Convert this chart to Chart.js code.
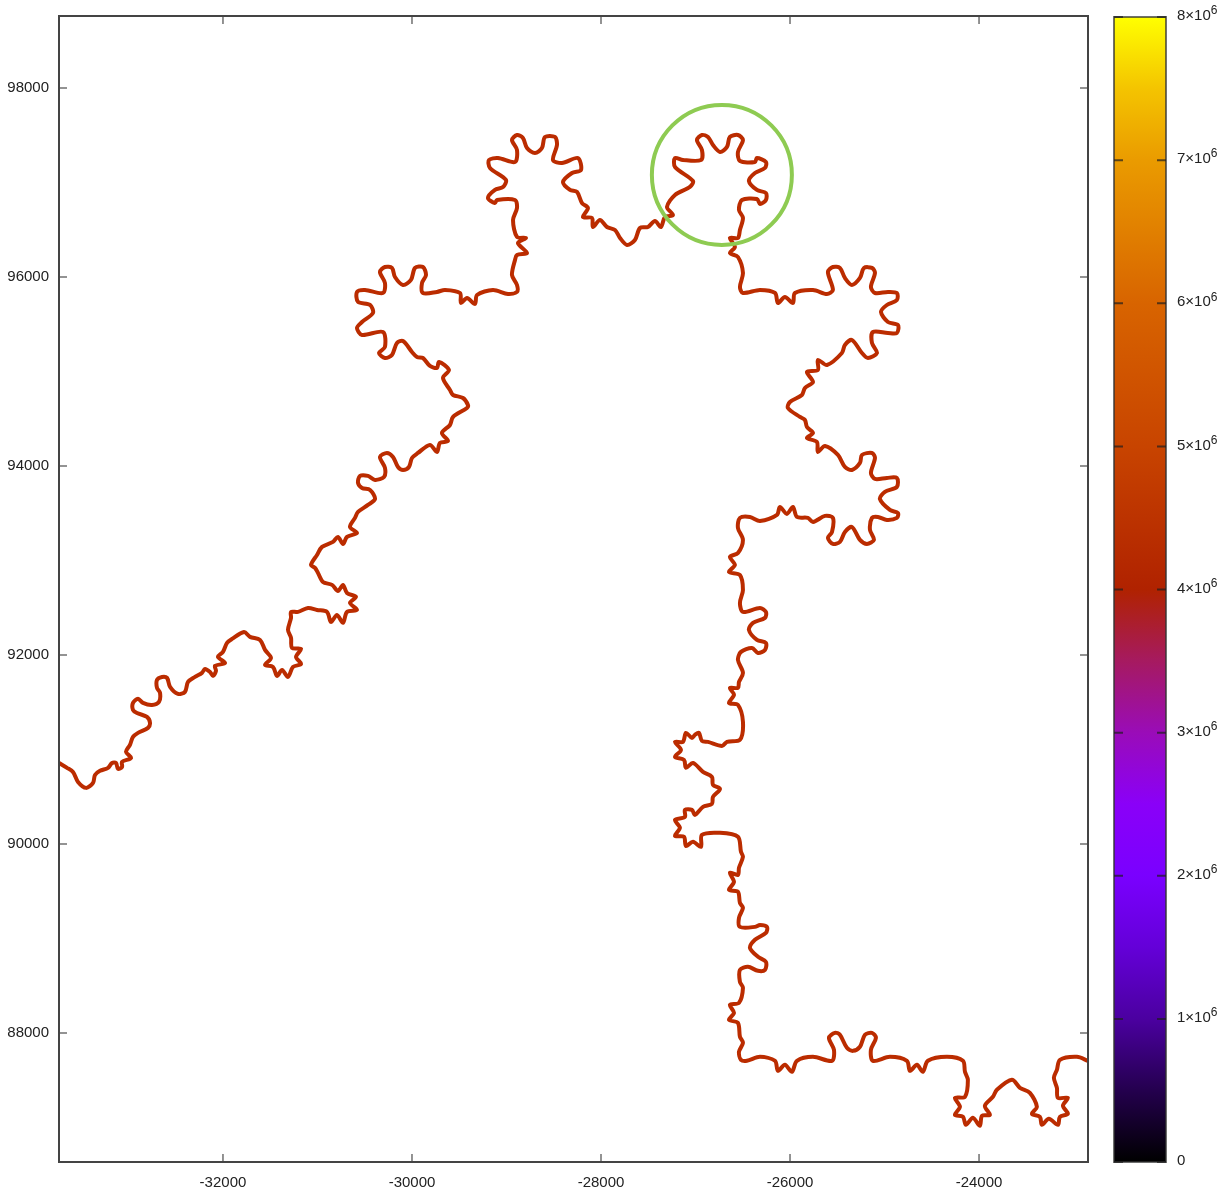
<!DOCTYPE html>
<html><head><meta charset="utf-8">
<style>html,body{margin:0;padding:0;background:#fff;overflow:hidden}canvas{position:absolute;top:0}</style>
<script src="https://cdn.jsdelivr.net/npm/chart.js@4"></script></head>
<body>
<canvas id="main" width="1100" height="1195" style="left:0"></canvas>
<canvas id="cbar" width="131" height="1195" style="left:1100px"></canvas>
<script>
const xTicks=[-32000,-30000,-28000,-26000,-24000];
const yTicks=[88000,90000,92000,94000,96000,98000];
const cbTicks=[0,1e6,2e6,3e6,4e6,5e6,6e6,7e6,8e6];
const cbMantissa=["0","1×10","2×10","3×10","4×10","5×10","6×10","7×10","8×10"];
const cbExponent=["","6","6","6","6","6","6","6","6"];
const circleX=[-26721];
const circleY=[97080];
const curveX=[-33735,-33650,-33587,-33534,-33449,-33375,-33354,-33301,-33216,-33174,-33132,-33111,-33068,-33068,-32973,-33026,-32984,-32952,-32899,-32793,-32772,-32804,-32910,-32952,-32952,-32899,-32846,-32751,-32677,-32666,-32698,-32698,-32645,-32592,-32560,-32476,-32402,-32370,-32296,-32222,-32190,-32137,-32105,-32074,-32084,-31978,-32053,-32000,-31957,-31904,-31777,-31714,-31608,-31555,-31492,-31555,-31471,-31428,-31375,-31312,-31259,-31174,-31227,-31174,-31270,-31280,-31312,-31280,-31280,-31206,-31100,-31005,-30899,-30857,-30794,-30730,-30688,-30582,-30656,-30593,-30688,-30730,-30783,-30846,-30942,-30995,-31026,-31069,-31005,-30952,-30836,-30783,-30730,-30688,-30582,-30656,-30603,-30571,-30466,-30391,-30444,-30529,-30571,-30550,-30466,-30391,-30296,-30286,-30339,-30265,-30201,-30148,-30095,-30032,-30000,-29937,-29810,-29736,-29704,-29619,-29683,-29598,-29566,-29418,-29408,-29460,-29566,-29598,-29672,-29609,-29714,-29736,-29810,-29884,-29947,-30000,-30095,-30159,-30212,-30286,-30349,-30286,-30307,-30529,-30582,-30529,-30413,-30444,-30571,-30582,-30497,-30307,-30286,-30339,-30286,-30212,-30180,-30095,-30011,-29968,-29884,-29852,-29894,-29884,-29736,-29651,-29492,-29482,-29418,-29333,-29312,-29143,-28984,-28889,-28889,-28942,-28910,-28889,-28783,-28879,-28794,-28889,-28931,-28889,-28910,-29101,-29122,-29196,-29122,-29037,-29006,-29175,-29185,-29090,-28910,-28889,-28942,-28889,-28826,-28783,-28699,-28625,-28593,-28487,-28466,-28508,-28413,-28244,-28212,-28307,-28402,-28328,-28254,-28201,-28138,-28191,-28096,-28085,-28011,-27937,-27852,-27799,-27725,-27641,-27588,-27503,-27429,-27366,-27323,-27239,-27302,-27217,-27059,-27027,-27217,-27217,-27133,-26942,-26932,-26985,-26932,-26868,-26815,-26741,-26667,-26636,-26551,-26498,-26551,-26530,-26371,-26350,-26255,-26265,-26371,-26435,-26350,-26255,-26255,-26318,-26350,-26509,-26540,-26498,-26530,-26551,-26636,-26583,-26636,-26551,-26498,-26530,-26498,-26318,-26159,-26128,-26054,-25969,-25948,-25757,-25609,-25546,-25599,-25546,-25472,-25419,-25345,-25260,-25218,-25133,-25101,-25144,-25101,-24964,-24869,-24869,-24975,-25038,-24964,-24858,-24869,-24964,-25123,-25133,-25080,-25176,-25239,-25345,-25419,-25451,-25609,-25705,-25705,-25821,-25757,-25842,-25874,-26001,-26022,-25895,-25842,-25821,-25757,-25821,-25715,-25705,-25630,-25493,-25419,-25345,-25260,-25239,-25133,-25101,-25144,-25101,-24975,-24869,-24869,-24996,-25049,-24943,-24858,-24869,-24975,-25070,-25133,-25154,-25112,-25186,-25260,-25345,-25419,-25472,-25546,-25599,-25556,-25546,-25630,-25757,-25810,-25927,-25969,-26033,-26107,-26138,-26318,-26424,-26530,-26551,-26498,-26551,-26636,-26583,-26646,-26530,-26498,-26530,-26498,-26318,-26255,-26265,-26392,-26435,-26350,-26255,-26265,-26339,-26403,-26519,-26551,-26498,-26540,-26551,-26636,-26593,-26646,-26551,-26498,-26530,-26667,-26720,-26868,-26932,-26964,-27006,-27038,-27101,-27133,-27217,-27154,-27217,-27122,-27101,-27027,-26921,-26826,-26815,-26741,-26815,-26826,-26921,-27006,-27038,-27112,-27112,-27217,-27165,-27217,-27122,-27101,-27027,-26942,-26932,-26741,-26551,-26519,-26498,-26540,-26551,-26636,-26593,-26646,-26551,-26530,-26498,-26540,-26530,-26371,-26318,-26244,-26255,-26371,-26424,-26339,-26255,-26265,-26339,-26445,-26530,-26530,-26498,-26540,-26636,-26593,-26646,-26551,-26530,-26498,-26540,-26519,-26456,-26318,-26159,-26128,-26054,-25980,-25927,-25757,-25556,-25535,-25588,-25525,-25472,-25398,-25334,-25260,-25207,-25133,-25091,-25144,-25123,-24943,-24763,-24731,-24657,-24594,-24541,-24340,-24170,-24149,-24118,-24149,-24255,-24202,-24255,-24170,-24139,-24065,-23991,-23969,-23885,-23938,-23853,-23811,-23652,-23567,-23462,-23388,-23440,-23356,-23335,-23261,-23165,-23144,-23060,-23112,-23060,-23165,-23176,-23208,-23176,-23144,-22964,-22848];
const curveY=[90858,90806,90763,90657,90594,90647,90731,90774,90806,90858,90858,90795,90816,90869,90911,90975,91049,91134,91176,91229,91282,91345,91387,91419,91493,91536,91493,91472,91504,91599,91652,91737,91768,91758,91663,91588,91610,91715,91768,91811,91853,91821,91779,91832,91885,91916,91980,92033,92128,92170,92244,92192,92160,92054,91969,91895,91874,91779,91842,91768,91874,91906,91980,92065,92075,92181,92266,92393,92456,92456,92498,92477,92456,92350,92424,92340,92456,92477,92551,92615,92657,92742,92678,92742,92773,92869,92922,92953,93059,93144,93197,93250,93175,93250,93292,93355,93451,93514,93588,93652,93747,93768,93821,93895,93895,93853,93884,93980,94096,94138,94096,93990,93958,93990,94085,94138,94223,94149,94244,94265,94350,94434,94519,94614,94646,94720,94752,94805,94932,95016,95101,95038,95059,95143,95154,95207,95323,95302,95175,95143,95196,95260,95418,95387,95461,95524,95619,95704,95736,95842,95863,95831,95937,96053,96106,96096,96000,95916,95969,96096,96106,96021,95937,95831,95842,95863,95831,95725,95778,95715,95810,95863,95820,95842,95916,96021,96180,96233,96254,96360,96413,96424,96603,96730,96815,96815,96783,96836,96921,96953,97027,97154,97238,97259,97217,97344,97450,97503,97471,97365,97312,97365,97482,97482,97397,97238,97206,97259,97132,97101,97005,96921,96900,96783,96730,96635,96625,96529,96603,96529,96498,96413,96339,96392,96519,96529,96593,96529,96635,96656,96741,96868,96953,97016,97164,97259,97238,97238,97344,97450,97503,97482,97397,97323,97376,97482,97503,97450,97323,97228,97217,97259,97217,97154,97101,97016,96921,96889,96815,96773,96826,96815,96709,96625,96498,96413,96413,96318,96254,96212,96043,95895,95831,95863,95831,95725,95789,95725,95831,95863,95820,95863,96053,96106,96096,95990,95916,95990,96096,96096,96043,95895,95831,95842,95831,95757,95704,95630,95524,95492,95408,95408,95418,95302,95196,95143,95196,95334,95281,95196,95069,95122,95016,94995,94889,94826,94752,94678,94614,94519,94487,94413,94350,94297,94255,94149,94212,94117,93990,93958,94032,94117,94138,94085,93927,93863,93874,93874,93779,93726,93652,93535,93503,93451,93429,93461,93451,93324,93218,93175,93218,93355,93302,93197,93175,93239,93302,93451,93472,93408,93451,93461,93567,93493,93567,93482,93419,93461,93451,93345,93218,93080,93038,92953,92879,92847,92689,92551,92456,92498,92456,92393,92340,92266,92160,92128,92054,92022,92075,92033,91948,91811,91715,91652,91652,91578,91493,91472,91292,91102,91081,91038,91081,91091,91176,91155,91123,91176,91081,91081,90996,90922,90890,90806,90858,90763,90710,90626,90583,90499,90425,90393,90308,90361,90361,90287,90255,90171,90086,90076,89980,90023,89970,90097,90118,90076,89917,89864,89748,89673,89695,89599,89515,89494,89377,89324,89219,89123,89123,89144,89123,89060,88986,88901,88806,88753,88668,88658,88700,88668,88541,88478,88319,88298,88213,88139,88108,87960,87896,87801,87716,87706,87748,87706,87600,87663,87589,87706,87748,87706,87822,87949,88002,87981,87843,87811,87854,87981,88002,87949,87822,87706,87748,87706,87600,87663,87589,87706,87748,87706,87589,87505,87325,87314,87219,87134,87113,87028,87103,87018,87124,87134,87230,87325,87399,87505,87420,87367,87219,87145,87113,87028,87092,87028,87113,87145,87230,87314,87314,87420,87526,87610,87716,87748,87706];
const xRange=[-33735,-22847];
const yRange=[86635,98762];
const cbStops=[[0,'#000000'],[0.5e6,'#24004e'],[1e6,'#4b00a0'],[1.5e6,'#6400d8'],[2e6,'#7a00ff'],[2.5e6,'#8a00f8'],[3e6,'#9a0cb8'],[3.5e6,'#a61a60'],[4e6,'#b02200'],[5e6,'#c84400'],[6e6,'#d86400'],[7e6,'#ea9b00'],[7.5e6,'#f4c400'],[8e6,'#ffff00']];
const FONT='"Liberation Sans", Arial, sans-serif';
const frame={id:'frame',afterDatasetsDraw(c){
  const {ctx,chartArea:a,scales:{x,y}}=c;ctx.save();
  ctx.strokeStyle='#707070';ctx.lineWidth=1.5;ctx.beginPath();
  xTicks.forEach(v=>{const p=x.getPixelForValue(v);ctx.moveTo(p,a.bottom);ctx.lineTo(p,a.bottom-8);ctx.moveTo(p,a.top);ctx.lineTo(p,a.top+8);});
  yTicks.forEach(v=>{const p=y.getPixelForValue(v);ctx.moveTo(a.left,p);ctx.lineTo(a.left+8,p);ctx.moveTo(a.right,p);ctx.lineTo(a.right-8,p);});
  ctx.stroke();
  ctx.strokeStyle='#444';ctx.lineWidth=2;ctx.strokeRect(a.left,a.top,a.right-a.left,a.bottom-a.top);
  ctx.restore();}};
new Chart(document.getElementById('main'),{type:'scatter',
 data:{datasets:[
  {data:circleX.map((v,i)=>({x:v,y:circleY[i]})),pointRadius:70,pointBorderWidth:4,pointBorderColor:'#8ecb52',pointBackgroundColor:'rgba(0,0,0,0)',showLine:false,clip:false},
  {data:curveX.map((v,i)=>({x:v,y:curveY[i]})),showLine:true,borderColor:'#bb2c00',borderWidth:4,tension:0.3,pointRadius:0,borderJoinStyle:'round'}
 ]},
 options:{responsive:false,animation:false,events:[],
  layout:{autoPadding:false,padding:{top:16,right:12,left:0,bottom:0}},
  plugins:{legend:{display:false},tooltip:{enabled:false}},
  scales:{
   x:{type:'linear',min:xRange[0],max:xRange[1],grid:{display:false},border:{display:false},
    afterBuildTicks:s=>{s.ticks=xTicks.map(v=>({value:v}));},
    afterFit:s=>{s.height=33;},
    ticks:{autoSkip:false,maxRotation:0,padding:4,color:'#222',font:{family:FONT,size:15},callback:v=>String(v)}},
   y:{type:'linear',min:yRange[0],max:yRange[1],grid:{display:false},border:{display:false},
    afterBuildTicks:s=>{s.ticks=yTicks.map(v=>({value:v}));},
    afterFit:s=>{s.width=59;},
    ticks:{autoSkip:false,padding:2,color:'#222',font:{family:FONT,size:15},callback:v=>String(v)}}
  }},plugins:[frame]});
const cbFrame={id:'cbFrame',afterDatasetsDraw(c){
  const {ctx,chartArea:a,scales:{y}}=c;ctx.save();
  ctx.strokeStyle='rgba(50,50,50,0.7)';ctx.lineWidth=2;ctx.strokeRect(a.left,a.top,a.right-a.left,a.bottom-a.top);
  ctx.strokeStyle='rgba(30,30,30,0.7)';ctx.beginPath();
  cbTicks.forEach(v=>{const p=y.getPixelForValue(v);ctx.moveTo(a.left,p);ctx.lineTo(a.left+9,p);ctx.moveTo(a.right,p);ctx.lineTo(a.right-9,p);});
  ctx.stroke();
  ctx.fillStyle='#222';ctx.textAlign='left';ctx.textBaseline='middle';
  cbTicks.forEach((v,i)=>{const p=y.getPixelForValue(v);const lx=a.right+11;
    ctx.font='15px '+FONT;ctx.fillText(cbMantissa[i],lx,p-1);
    if(cbExponent[i]){const w=ctx.measureText(cbMantissa[i]).width;ctx.font='12px '+FONT;ctx.fillText(cbExponent[i],lx+w,p-6);}});
  ctx.restore();}};
new Chart(document.getElementById('cbar'),{type:'bar',
 data:{labels:[''],datasets:[{data:[[0,8e6]],barPercentage:1,categoryPercentage:1,borderWidth:0,
  backgroundColor:ctx=>{const c=ctx.chart,a=c.chartArea;if(!a)return '#000';
   const g=c.ctx.createLinearGradient(0,a.bottom,0,a.top);cbStops.forEach(s=>g.addColorStop(s[0]/8e6,s[1]));return g;}}]},
 options:{responsive:false,animation:false,events:[],
  layout:{autoPadding:false,padding:{top:17,left:14,right:0,bottom:0}},
  plugins:{legend:{display:false},tooltip:{enabled:false}},
  scales:{
   x:{grid:{display:false},border:{display:false},ticks:{display:false},afterFit:s=>{s.height=33;}},
   y:{position:'right',min:0,max:8e6,grid:{display:false},border:{display:false},
    afterBuildTicks:s=>{s.ticks=cbTicks.map(v=>({value:v}));},
    afterFit:s=>{s.width=65;},
    ticks:{display:false}}
  }},plugins:[cbFrame]});
</script></body></html>
